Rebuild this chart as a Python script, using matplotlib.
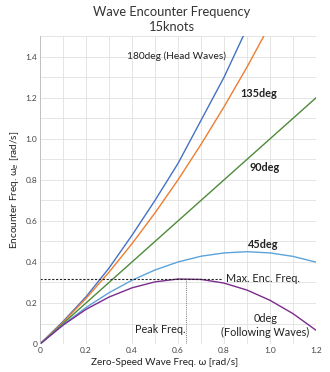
import matplotlib.pyplot as plt

plt.rcParams['font.family'] = ['Lato', 'DejaVu Sans']

# zero-speed wave frequency [rad/s]
omega = [0.0, 0.1, 0.2, 0.3, 0.4, 0.5, 0.6, 0.7, 0.8, 0.9, 1.0, 1.1, 1.2]

# encounter frequency per heading, 15 knots
we_180 = [0.0, 0.11, 0.23, 0.37, 0.53, 0.70, 0.88, 1.09, 1.30, 1.54]
we_135 = [0.0, 0.106, 0.222, 0.35, 0.489, 0.639, 0.80, 0.973, 1.156, 1.35, 1.556]
we_90 = [0.0, 0.1, 0.2, 0.3, 0.4, 0.5, 0.6, 0.7, 0.8, 0.9, 1.0, 1.1, 1.2]
we_45 = [0.0, 0.094, 0.178, 0.25, 0.311, 0.361, 0.40, 0.428, 0.444, 0.45, 0.444, 0.427, 0.399]
we_0 = [0.0, 0.092, 0.169, 0.229, 0.274, 0.303, 0.317, 0.315, 0.297, 0.263, 0.213, 0.148, 0.067]

peak_freq = 0.636
max_enc_freq = 0.318

fig = plt.figure(figsize=(3.3, 3.72), dpi=100)
ax = fig.add_axes([0.121, 0.075, 0.837, 0.828])

ax.plot(omega[:len(we_180)], we_180, color='#4472C4', lw=1.0)
ax.plot(omega[:len(we_135)], we_135, color='#ED7D31', lw=1.0)
ax.plot(omega, we_90, color='#4E8A3A', lw=1.0)
ax.plot(omega, we_45, color='#5BA3DA', lw=1.0)
ax.plot(omega, we_0, color='#7B2C8E', lw=1.0)

ax.plot([0, 0.79], [max_enc_freq, max_enc_freq], color='#222222', lw=0.8, ls=(0, (2, 1.5)))
ax.plot([peak_freq, peak_freq], [0, max_enc_freq], color='#777777', lw=0.7, ls=(0, (1, 1.2)))

ax.set_xlim(0, 1.2)
ax.set_ylim(0, 1.5)
ax.set_xticks([0, 0.2, 0.4, 0.6, 0.8, 1.0, 1.2])
ax.set_xticklabels(['0', '0.2', '0.4', '0.6', '0.8', '1.0', '1.2'])
ax.set_yticks([0, 0.2, 0.4, 0.6, 0.8, 1.0, 1.2, 1.4])
ax.set_yticklabels(['0', '0.2', '0.4', '0.6', '0.8', '1.0', '1.2', '1.4'])
ax.set_xticks([0.1, 0.3, 0.5, 0.7, 0.9, 1.1], minor=True)
ax.set_yticks([0.1, 0.3, 0.5, 0.7, 0.9, 1.1, 1.3, 1.5], minor=True)
ax.grid(True, which='both', color='#E0E0E0', lw=0.6)
ax.tick_params(which='both', length=0, labelsize=6, labelcolor='#444444', pad=2)
for s in ax.spines.values():
    s.set_visible(False)
ax.axhline(0, color='#BBBBBB', lw=0.6)
ax.axvline(0, color='#BBBBBB', lw=0.6)

ax.set_xlabel('Zero-Speed Wave Freq. ω [rad/s]', fontsize=7.2, color='#222222', labelpad=1)
ax.xaxis.set_label_coords(0.45, -0.045)
ax.set_ylabel('Encounter Freq. ω$_e$ [rad/s]', fontsize=7.2, color='#222222', labelpad=3)
fig.text(0.52, 0.967, 'Wave Encounter Frequency', ha='center', va='center', fontsize=9.3, color='#333333')
fig.text(0.52, 0.927, '15knots', ha='center', va='center', fontsize=9.3, color='#333333')

lbl = dict(color='#222222')
ax.text(0.38, 1.40, '180deg (Head Waves)', ha='left', va='center', fontsize=7.3, **lbl)
ax.text(0.87, 1.22, '135deg', ha='left', va='center', fontweight='bold', fontsize=7.8, **lbl)
ax.text(0.91, 0.86, '90deg', ha='left', va='center', fontweight='bold', fontsize=7.8, **lbl)
ax.text(0.97, 0.485, '45deg', ha='center', va='center', fontweight='bold', fontsize=7.8, **lbl)
ax.text(0.81, 0.32, 'Max. Enc. Freq.', ha='left', va='center', fontsize=7.8, **lbl)
ax.text(0.635, 0.07, 'Peak Freq.', ha='right', va='center', fontsize=7.8, **lbl)
ax.text(0.98, 0.125, '0deg', ha='center', va='center', fontsize=7.8, **lbl)
ax.text(0.98, 0.055, '(Following Waves)', ha='center', va='center', fontsize=7.8, **lbl)

fig.savefig('out.png', dpi=100)
